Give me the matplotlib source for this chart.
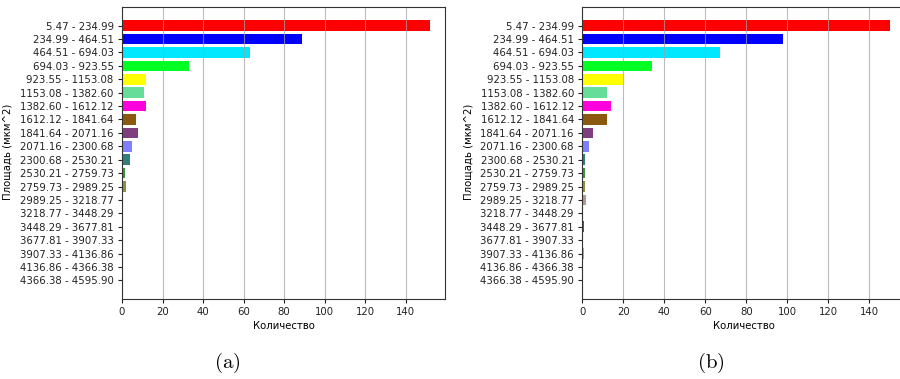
import matplotlib
matplotlib.use('Agg')
import matplotlib.pyplot as plt

plt.rcParams['mathtext.fontset'] = 'cm'

bins = ['5.47 - 234.99', '234.99 - 464.51', '464.51 - 694.03', '694.03 - 923.55',
        '923.55 - 1153.08', '1153.08 - 1382.60', '1382.60 - 1612.12',
        '1612.12 - 1841.64', '1841.64 - 2071.16', '2071.16 - 2300.68',
        '2300.68 - 2530.21', '2530.21 - 2759.73', '2759.73 - 2989.25',
        '2989.25 - 3218.77', '3218.77 - 3448.29', '3448.29 - 3677.81',
        '3677.81 - 3907.33', '3907.33 - 4136.86', '4136.86 - 4366.38',
        '4366.38 - 4595.90']

counts_a = [152, 89, 63, 33, 12, 11, 12, 7, 8, 5, 4, 1.6, 2,
            0.2, 0.1, 0.3, 0.1, 0.1, 0.2, 0.1]
counts_b = [150, 98, 67, 34, 20, 12, 14, 12, 5, 3.4, 1.3, 1.3, 1.5,
            1.7, 0, 0.9, 0, 0.8, 0, 0]

colors = ['#ff0000', '#0000ff', '#00e8ff', '#00ff22', '#ffff00', '#66dd99',
          '#ff00dd', '#8b5a10', '#7f3f7f', '#8080ff', '#2f7f7f', '#3f8f3f',
          '#8f8f3f', '#b09a90', '#c0c0c0', '#9020c0', '#a0a0a0', '#e0a040',
          '#c0c0a0', '#a0a0a0']


def draw_panel(ax, values):
    pos = list(range(len(bins)))
    ax.barh(pos, values, color=colors, height=0.8)
    ax.set_yticks(pos)
    ax.set_yticklabels(bins)
    ax.invert_yaxis()
    ax.set_xticks(range(0, 141, 20))
    ax.grid(axis='x', color='#a0a0a0', alpha=0.7, linewidth=0.8)
    ax.tick_params(labelsize=7.3, colors='#222222', length=3, pad=3)
    ax.set_xlabel('Количество', fontsize=7.3, labelpad=3)
    ax.set_ylabel('Площадь (мкм^2)', fontsize=7.3)
    ax.yaxis.set_label_coords(-0.338, 0.503)
    for s in ax.spines.values():
        s.set_color('#333333')


fig = plt.figure(figsize=(9, 3.79), dpi=100)
ax_a = fig.add_axes([0.1356, 0.2111, 0.3592, 0.7704])
ax_b = fig.add_axes([0.647, 0.2111, 0.3588, 0.7704])

draw_panel(ax_a, counts_a)
draw_panel(ax_b, counts_b)

fig.text(0.252, 0.043, r'$\mathrm{(a)}$', fontsize=15, ha='center', va='center')
fig.text(0.79, 0.043, r'$\mathrm{(b)}$', fontsize=15, ha='center', va='center')

fig.savefig('out.png', dpi=100)
